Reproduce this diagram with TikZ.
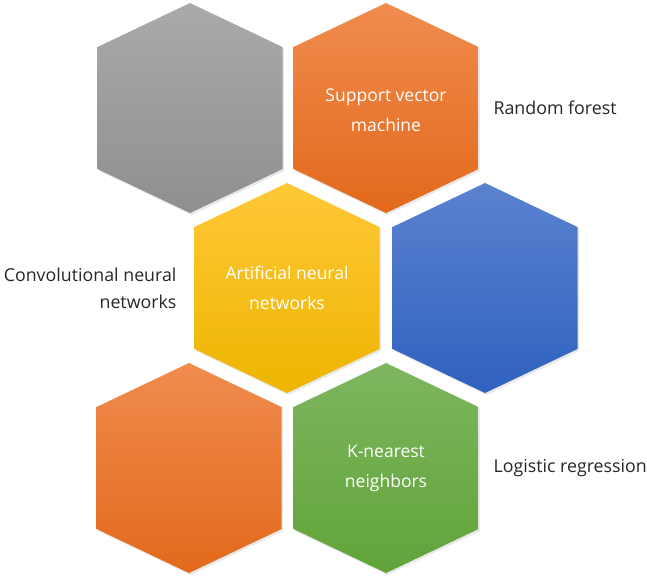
\documentclass[tikz,border=0pt]{standalone}
\usepackage{fontspec}
\setmainfont{Open Sans}
\usepackage{tikz}
\usetikzlibrary{shadows}

\definecolor{grayhi}{HTML}{AAAAAA}
\definecolor{graylo}{HTML}{8F8F8F}
\definecolor{orangehi}{HTML}{F08C4E}
\definecolor{orangelo}{HTML}{E2691C}
\definecolor{yellowhi}{HTML}{FFC838}
\definecolor{yellowlo}{HTML}{EDB500}
\definecolor{bluehi}{HTML}{5B82D0}
\definecolor{bluelo}{HTML}{2F62BE}
\definecolor{greenhi}{HTML}{7DB65F}
\definecolor{greenlo}{HTML}{61A439}
\definecolor{labelgray}{HTML}{262626}

\begin{document}
\begin{tikzpicture}[x=1pt, y=-1pt,
  hexcell/.style={drop shadow={opacity=0.18, shadow xshift=1.5pt, shadow yshift=-2pt}},
  hexlabel/.style={text=white, align=center, font=\fontsize{17.5}{30}\selectfont},
  sidelabel/.style={text=labelgray, font=\fontsize{17.8}{27}\selectfont}]
\useasboundingbox (0,0) rectangle (647,579);
\foreach \cx/\cy/\hi/\lo in {190/108/grayhi/graylo, 386/108/orangehi/orangelo,
    287/288/yellowhi/yellowlo, 485/288/bluehi/bluelo,
    189/468/orangehi/orangelo, 386/468/greenhi/greenlo}
  \path[hexcell, top color=\hi, bottom color=\lo]
    (\cx,\cy-105) -- (\cx+92.5,\cy-61) -- (\cx+92.5,\cy+61) -- (\cx,\cy+105)
    -- (\cx-92.5,\cy+61) -- (\cx-92.5,\cy-61) -- cycle;
\node[hexlabel] (svm) at (386,110) {Support vector\\machine};
\node[hexlabel] (ann) at (287,288) {Artificial neural\\networks};
\node[hexlabel] (knn) at (386,468) {K-nearest\\neighbors};
\node[sidelabel, anchor=west] (rf) at (490,108) {Random forest};
\node[sidelabel, anchor=east, align=right] (cnn) at (180,288) {Convolutional neural\\networks};
\node[sidelabel, anchor=west] (lr) at (490,468) {Logistic regression};
\end{tikzpicture}
\end{document}
